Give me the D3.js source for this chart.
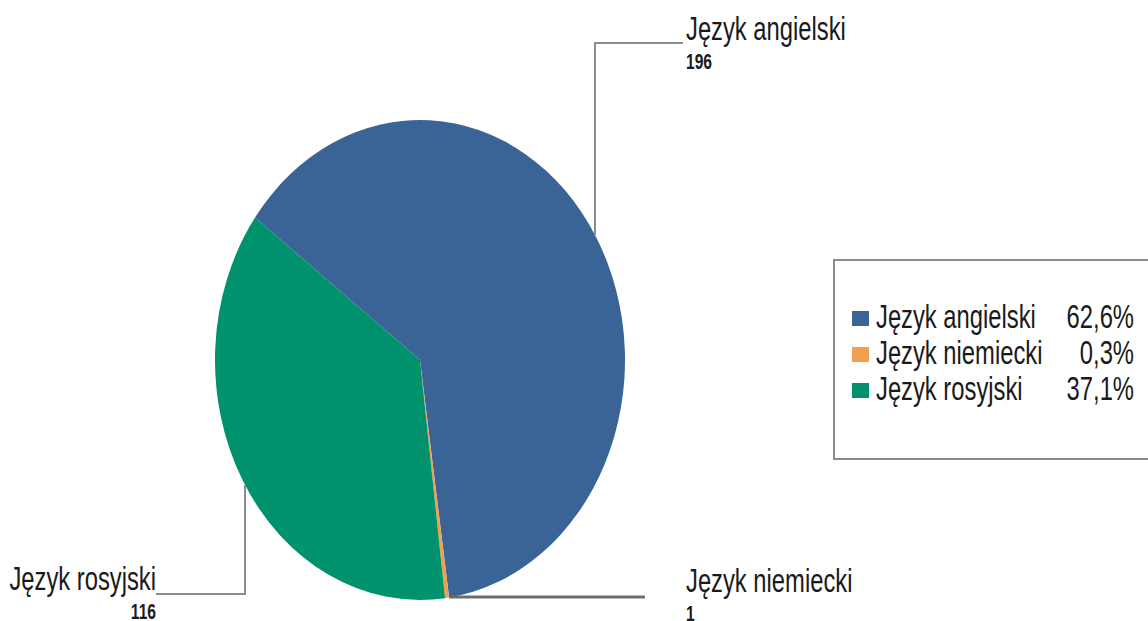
<!DOCTYPE html>
<meta charset="utf-8">
<style>
body { margin: 0; background: #fff; }
text { font-family: "Liberation Sans", Arial, sans-serif; fill: #1a1a1a; }
</style>
<script src="https://cdn.jsdelivr.net/npm/d3@7"></script>
<div id="chart"></div>
<script>
// data
var languages = ["Język angielski", "Język niemiecki", "Język rosyjski"];
var counts = [196, 1, 116];
var percents = ["62,6%", "0,3%", "37,1%"];
var colors = ["#3a6496", "#f0a04f", "#00916d"];

var W = 1148, H = 621;
var cx = 420, cy = 360, r = 205, sy = 240 / 205;   // pie is stretched vertically
var sx = 0.82;                                     // narrow text look
var startDeg = -53.6;

var svg = d3.select("#chart").append("svg")
    .attr("width", W).attr("height", H);

var pie = d3.pie().sort(null)
    .startAngle(startDeg * Math.PI / 180)
    .endAngle(startDeg * Math.PI / 180 + 2 * Math.PI);
var arc = d3.arc().innerRadius(0).outerRadius(r);
var arcs = pie(counts);

svg.append("g")
    .attr("transform", "translate(" + cx + "," + cy + ") scale(1," + sy + ")")
    .selectAll("path")
    .data(arcs)
    .enter().append("path")
    .attr("d", arc)
    .attr("fill", function(d, i) { return colors[i]; });

// point on the pie edge for a given x (top or bottom half)
function edgeY(x, side) {
    var nx = (x - cx) / r;
    return cy + side * Math.sqrt(1 - nx * nx) * r * sy;
}
function edgeAt(angle) {
    return [cx + Math.sin(angle) * r, cy - Math.cos(angle) * r * sy];
}

// leader lines
var pN = edgeAt(arcs[1].startAngle);
var leaders = [
    {pts: [[595, edgeY(595, -1)], [595, 43], [683, 43]], w: 2, c: "#8c8c8c"},
    {pts: [[pN[0], 597], [645, 597]], w: 3, c: "#6e6e6e"},
    {pts: [[245, edgeY(245, 1)], [245, 594], [156, 594]], w: 2, c: "#8c8c8c"}
];
svg.selectAll("polyline.leader")
    .data(leaders)
    .enter().append("polyline")
    .attr("class", "leader")
    .attr("points", function(d) { return d.pts.map(function(p) { return p.join(","); }).join(" "); })
    .attr("fill", "none")
    .attr("stroke", function(d) { return d.c; })
    .attr("stroke-width", function(d) { return d.w; });

// labels
function label(x, y, txt, size, weight, anchor) {
    svg.append("g")
        .attr("transform", "translate(" + x + "," + y + ") scale(" + sx + "," + sy + ")")
        .append("text")
        .attr("text-anchor", anchor)
        .style("font-size", size + "px")
        .style("font-weight", weight)
        .text(txt);
}
var labelPos = [
    {x: 686, y: 40, a: "start"},
    {x: 686, y: 592, a: "start"},
    {x: 156, y: 590, a: "end"}
];
labelPos.forEach(function(p, i) {
    label(p.x, p.y, languages[i], 29, "normal", p.a);
    label(p.x, p.y + 29, counts[i], 19, "bold", p.a);
});

// legend
svg.append("rect")
    .attr("x", 834).attr("y", 260)
    .attr("width", 330).attr("height", 199)
    .attr("fill", "#fff")
    .attr("stroke", "#8a8a8a")
    .attr("stroke-width", 2);

languages.forEach(function(name, i) {
    var y = 318 + i * 36;
    svg.append("rect")
        .attr("x", 852).attr("y", y - 7)
        .attr("width", 17).attr("height", 15)
        .attr("fill", colors[i]);
    label(876, y + 10, name, 29, "normal", "start");
    label(1134, y + 10, percents[i], 29, "normal", "end");
});
</script>
